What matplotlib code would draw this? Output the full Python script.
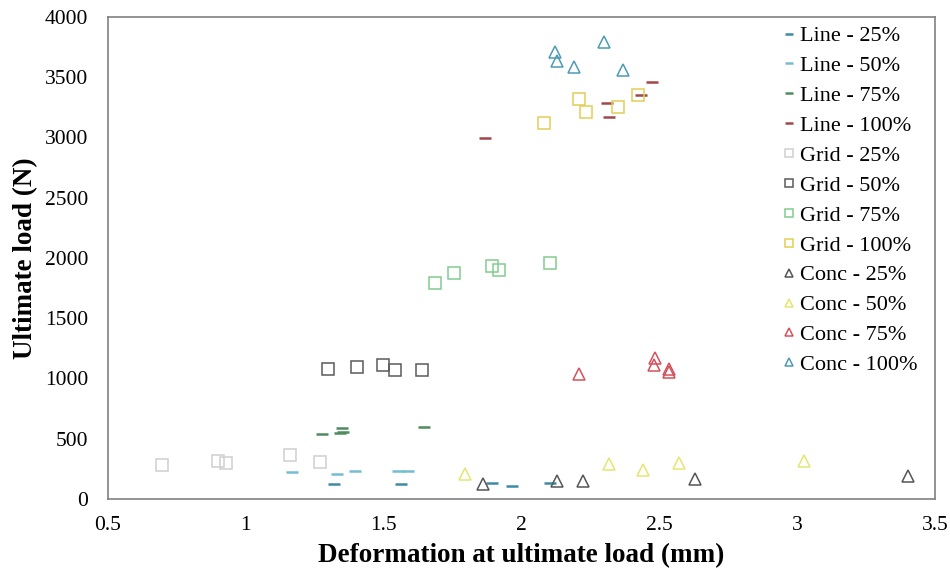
import matplotlib.pyplot as plt
import numpy as np

plt.rcParams['font.family'] = ['Liberation Serif', 'DejaVu Serif']

# deformation (mm) / ultimate load (N)
line25_x = [1.32, 1.563, 1.893, 1.968, 2.104]
line25_y = [127, 127, 130, 108, 133]
line50_x = [1.169, 1.332, 1.398, 1.553, 1.589]
line50_y = [222, 205, 235, 235, 235]
line75_x = [1.277, 1.343, 1.353, 1.351, 1.648]
line75_y = [539, 545, 558, 588, 595]
line100_x = [2.475, 2.433, 2.311, 2.317, 1.869]
line100_y = [3458, 3353, 3284, 3172, 2996]

grid25_x = [0.697, 0.90, 0.929, 1.162, 1.269]
grid25_y = [282, 318, 301, 363, 310]
grid50_x = [1.301, 1.405, 1.499, 1.544, 1.640]
grid50_y = [1076, 1093, 1115, 1068, 1071]
grid75_x = [1.687, 1.755, 1.893, 1.920, 2.104]
grid75_y = [1790, 1873, 1934, 1900, 1961]
grid100_x = [2.210, 2.235, 2.083, 2.352, 2.425]
grid100_y = [3322, 3209, 3120, 3256, 3355]

conc25_x = [1.863, 2.129, 2.225, 2.631, 3.401]
conc25_y = [122, 149, 152, 166, 193]
conc50_x = [1.796, 2.318, 2.443, 2.573, 3.025]
conc50_y = [207, 288, 241, 301, 318]
conc75_x = [2.210, 2.486, 2.482, 2.535, 2.537]
conc75_y = [1035, 1168, 1112, 1076, 1056]
conc100_x = [2.124, 2.129, 2.193, 2.300, 2.368]
conc100_y = [3712, 3637, 3588, 3793, 3560]

fig = plt.figure(figsize=(9.5, 5.76), dpi=100)
ax = fig.add_axes([0.1132, 0.1337, 0.871, 0.837])

# dashes
for x, y, c, lab in [(line25_x, line25_y, '#3f8aa3', 'Line - 25%'),
                     (line50_x, line50_y, '#72bdd2', 'Line - 50%'),
                     (line75_x, line75_y, '#4f8c60', 'Line - 75%'),
                     (line100_x, line100_y, '#a3474a', 'Line - 100%')]:
    ax.plot(x, y, ls='none', marker='_', ms=9, mew=1.8, color=c, label=lab)

# squares
for x, y, c, lab in [(grid25_x, grid25_y, '#cfcfcf', 'Grid - 25%'),
                     (grid50_x, grid50_y, '#5a5a5a', 'Grid - 50%'),
                     (grid75_x, grid75_y, '#82cc92', 'Grid - 75%'),
                     (grid100_x, grid100_y, '#e2cf55', 'Grid - 100%')]:
    ax.plot(x, y, ls='none', marker='s', ms=8, mfc='none', mew=1.1, color=c, label=lab)

# triangles
for x, y, c, lab in [(conc25_x, conc25_y, '#555555', 'Conc - 25%'),
                     (conc50_x, conc50_y, '#e6e572', 'Conc - 50%'),
                     (conc75_x, conc75_y, '#d4525c', 'Conc - 75%'),
                     (conc100_x, conc100_y, '#4c9bb2', 'Conc - 100%')]:
    ax.plot(x, y, ls='none', marker='^', ms=8.5, mfc='none', mew=1.1, color=c, label=lab)

ax.set_xlim(0.5, 3.5)
ax.set_ylim(0, 4000)
ax.set_xticks(np.arange(0.5, 3.6, 0.5))
ax.set_xticklabels(['0.5', '1', '1.5', '2', '2.5', '3', '3.5'])
ax.set_yticks(np.arange(0, 4001, 500))
ax.tick_params(length=0, labelsize=15.5)
ax.tick_params(axis='x', pad=12)
ax.tick_params(axis='y', pad=14)
for s in ax.spines.values():
    s.set_color('#808080')
    s.set_linewidth(1.2)

ax.set_xlabel('Deformation at ultimate load (mm)', fontsize=19.5, fontweight='bold', labelpad=6)
ax.set_ylabel('Ultimate load (N)', fontsize=19.5, fontweight='bold', labelpad=5)

ax.legend(loc='upper right', bbox_to_anchor=(0.99, 1.0), frameon=False, fontsize=16,
          markerscale=0.7, handlelength=0.6, handletextpad=0.2, labelspacing=0.42,
          borderaxespad=0.0)

fig.savefig('out.png', dpi=100)
